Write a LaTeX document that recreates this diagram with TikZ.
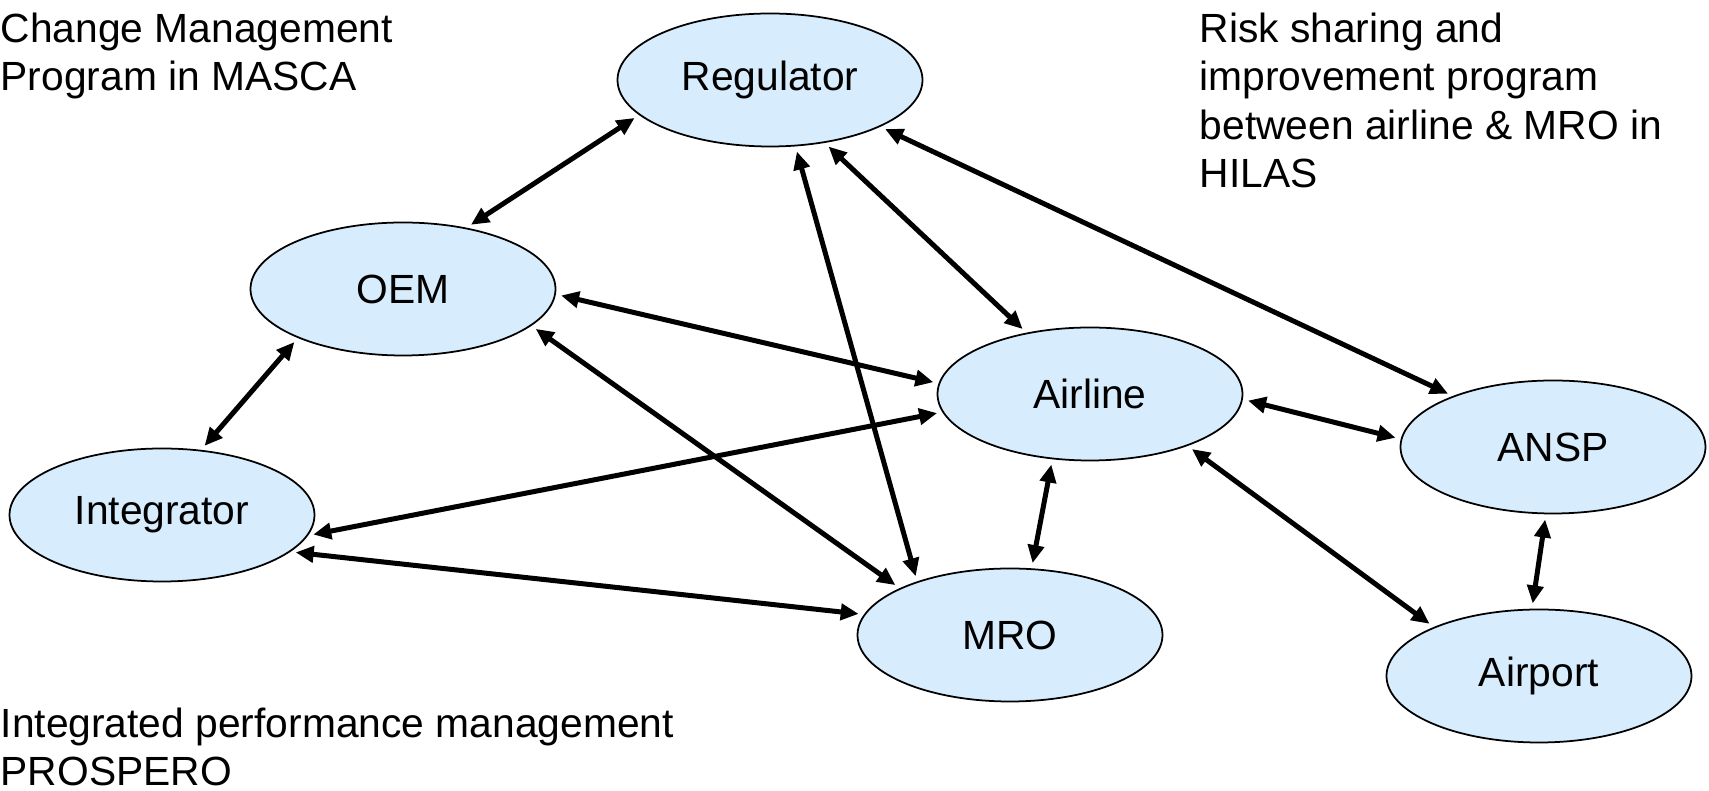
\documentclass[tikz,border=0pt]{standalone}
\usepackage{fontspec}
\setmainfont{Liberation Sans}
\usetikzlibrary{shapes.geometric,arrows.meta}

\definecolor{bubble}{RGB}{215,236,252}
\tikzset{
  party/.style={ellipse, draw, line width=0.5pt, fill=bubble,
    minimum width=30.5mm, minimum height=13.3mm, inner sep=0pt,
    font=\fontsize{11.6}{13.8}\selectfont},
  note/.style={anchor=north west, align=left, inner sep=0pt,
    font=\fontsize{11.6}{13.8}\selectfont},
  link/.style={{Triangle[length=1.8mm,width=1.6mm]}-{Triangle[length=1.8mm,width=1.6mm]},
    line width=0.5mm, shorten <=1.5pt, shorten >=1.5pt}
}

\begin{document}
\begin{tikzpicture}[x=0.1mm, y=-0.1mm]
            \useasboundingbox (0,0) rectangle (1709,791);
            % the parties
            \node[party] (reg) at (770,80) {Regulator};
            \node[party] (oem) at (403,289) {OEM};
            \node[party] (airline) at (1090,394) {Airline};
            \node[party] (ansp) at (1553,447) {ANSP};
            \node[party] (integ) at (162,515) {Integrator};
            \node[party] (mro) at (1010,635) {MRO};
            \node[party] (airport) at (1539,676) {Airport};
            % the programs
            \node[note] (masca) at (0,12) {Change Management\\Program in MASCA};
            \node[note] (hilas) at (1199,12) {Risk sharing and\\improvement program\\between airline \& MRO in\\HILAS};
            \node[note] (prospero) at (0,707) {Integrated performance management\\PROSPERO};
            % the links
            \draw[link] (reg.195) -- (oem.44);
            \draw[link] (reg.-69) -- (mro.150);
            \draw[link] (reg.-49) -- (airline.136);
            \draw[link] (reg.-23) -- (ansp.153);
            \draw[link] (oem.-2) -- (airline.176);
            \draw[link] (oem.-16) -- (mro.157);
            \draw[link] (oem.205) -- (integ.59);
            \draw[link] (integ.-8) -- (airline.187);
            \draw[link] (integ.-16) -- (mro.172);
            \draw[link] (airline.240) -- (mro.72);
            \draw[link] (airline.-2) -- (ansp.177);
            \draw[link] (airline.-28) -- (airport.155);
            \draw[link] (ansp.264) -- (airport.96);
        \end{tikzpicture}
\end{document}
